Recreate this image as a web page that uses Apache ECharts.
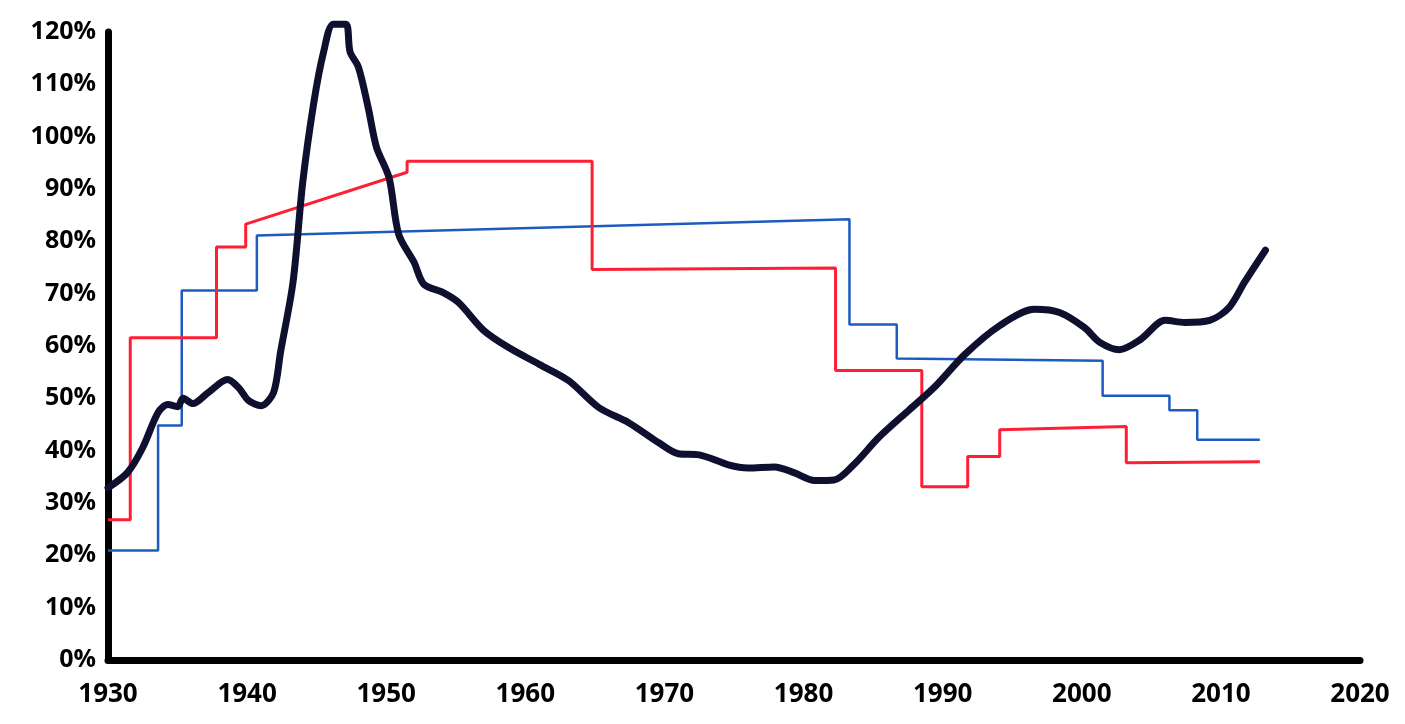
<!DOCTYPE html>
<html>
<head>
<meta charset="utf-8">
<script src="https://cdn.jsdelivr.net/npm/echarts@6/dist/echarts.min.js"></script>
<style>
  html, body { margin: 0; padding: 0; background: #fff; }
  #chart { width: 1405px; height: 724px; }
</style>
</head>
<body>
<div id="chart"></div>
<script>
// step lines: vertices (year, %)
const redYears = [1930, 1931.6, 1931.6, 1937.8, 1937.8, 1939.9, 1939.9, 1951.5, 1951.5, 1964.8, 1964.8, 1982.3, 1982.3, 1988.5, 1988.5, 1991.8, 1991.8, 1994.1, 1994.1, 2003.2, 2003.2, 2012.8];
const redValues = [26.8, 26.8, 61.6, 61.6, 78.9, 78.9, 83.3, 93.2, 95.3, 95.3, 74.6, 74.9, 55.3, 55.3, 33.1, 33.1, 38.9, 38.9, 44.0, 44.6, 37.7, 37.9];

const blueYears = [1930, 1933.6, 1933.6, 1935.3, 1935.3, 1940.7, 1940.7, 1983.3, 1983.3, 1986.7, 1986.7, 2001.5, 2001.5, 2006.3, 2006.3, 2008.3, 2008.3, 2012.8];
const blueValues = [20.9, 20.9, 44.8, 44.8, 70.6, 70.6, 81.1, 84.2, 64.1, 64.1, 57.6, 57.2, 50.5, 50.5, 47.7, 47.7, 42.1, 42.1];

const debtYears = [1930, 1931.4, 1932.5, 1933.6, 1934.3, 1935, 1935.4, 1936.1, 1937.2, 1938.6, 1939.4, 1940.1, 1941, 1941.9, 1942.4, 1943.3, 1944, 1944.8, 1945.5, 1946.2, 1947.1, 1947.4, 1948, 1948.7, 1949.3, 1950.2, 1950.9, 1952, 1952.7, 1954.1, 1955.2, 1957, 1958.8, 1961, 1963.1, 1965.3, 1967.4, 1969.6, 1971, 1972.5, 1974.6, 1976, 1977.9, 1979.3, 1980.8, 1982.2, 1983.6, 1985.4, 1987.6, 1989.4, 1991.6, 1994.1, 1996.6, 1998.4, 2000.2, 2001.3, 2002.7, 2004.2, 2006, 2007.4, 2009.2, 2010.6, 2011.7, 2013.2];
const debtValues = [32.9, 35.8, 40.6, 47.3, 48.8, 48.4, 50, 49, 51.1, 53.6, 52, 49.6, 48.6, 51.1, 58.8, 72.2, 91.3, 106.6, 116.2, 121.5, 121.5, 116.2, 113.3, 105.6, 98, 92.2, 81.3, 76, 71.8, 70.2, 68.3, 63, 59.7, 56.5, 53.4, 48.2, 45.4, 41.5, 39.4, 39.2, 37.3, 36.7, 36.9, 35.8, 34.3, 34.4, 37.3, 42.5, 47.8, 52.1, 58.4, 63.9, 67, 66.4, 63.5, 60.7, 59.3, 61.2, 64.9, 64.5, 64.9, 67.4, 72.2, 78.3];

const pairs = (xs, ys) => xs.map((x, i) => [x, ys[i]]);

const chart = echarts.init(document.getElementById('chart'));
const option = {
  animation: false,
  backgroundColor: '#ffffff',
  grid: { left: 108, right: 45, top: 32, bottom: 64 },
  xAxis: {
    type: 'value',
    min: 1930,
    max: 2020,
    interval: 10,
    axisLine: { show: true, onZero: false, lineStyle: { color: '#000', width: 7 } },
    axisTick: { show: false },
    splitLine: { show: false },
    axisLabel: {
      margin: 22,
      color: '#000',
      fontFamily: 'Open Sans',
      fontWeight: 'bold',
      fontSize: 26,
      formatter: (v) => String(v)
    }
  },
  yAxis: {
    type: 'value',
    min: 0,
    max: 120,
    interval: 10,
    axisLine: { show: true, lineStyle: { color: '#000', width: 7 } },
    axisTick: { show: false },
    splitLine: { show: false },
    axisLabel: {
      margin: 12,
      color: '#000',
      fontFamily: 'Open Sans',
      fontWeight: 'bold',
      fontSize: 25,
      formatter: '{value}%'
    }
  },
  series: [
    {
      type: 'line',
      data: pairs(blueYears, blueValues),
      showSymbol: false,
      lineStyle: { color: '#1e5bbf', width: 2.5 },
      z: 2
    },
    {
      type: 'line',
      data: pairs(redYears, redValues),
      showSymbol: false,
      lineStyle: { color: '#ff1f35', width: 3 },
      z: 3
    },
    {
      type: 'line',
      data: pairs(debtYears, debtValues),
      smooth: 0.3,
      clip: false,
      showSymbol: false,
      lineStyle: { color: '#0f1030', width: 7, cap: 'round', join: 'round' },
      z: 4
    }
  ]
};
option && chart.setOption(option);
</script>
</body>
</html>
